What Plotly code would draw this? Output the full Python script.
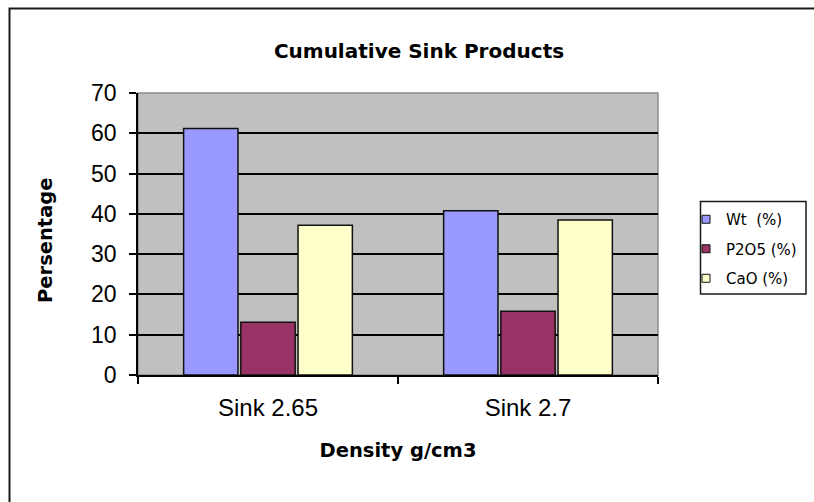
import plotly.graph_objects as go

# Cumulative sink products by density cut
categories = ["Sink 2.65", "Sink 2.7"]
wt_pct = [61.2, 40.8]
p2o5_pct = [13.1, 15.8]
cao_pct = [37.2, 38.5]

series = [
    ("Wt\u00a0\u00a0(%)", wt_pct, "#9999FF"),
    ("P2O5 (%)", p2o5_pct, "#993366"),
    ("CaO (%)", cao_pct, "#FFFFCC"),
]

y_ticks = [0, 10, 20, 30, 40, 50, 60, 70]

SANS = "Liberation Sans, Arial, sans-serif"
BOLD = "DejaVu Sans, Verdana, sans-serif"

fig = go.Figure()
for i, (name, vals, color) in enumerate(series):
    fig.add_trace(go.Bar(
        x=categories, y=vals, name=name,
        marker=dict(color=color, line=dict(color="#111111", width=1.5)),
        showlegend=False,
    ))
    # small square swatch for the legend
    fig.add_trace(go.Scatter(
        x=[None], y=[None], mode="markers", name=name,
        legendgroup=f"g{i}",
        marker=dict(symbol="square", size=8, color=color,
                    line=dict(color="#111111", width=1)),
    ))

W, H = 814, 502
L, R, T, B = 138, 156, 93, 127
pw, ph = W - L - R, H - T - B


def px_x(px):
    return (px - L) / pw


def px_y(py):
    return (H - B - py) / ph


fig.update_layout(
    width=W, height=H,
    margin=dict(l=L, r=R, t=T, b=B, pad=0),
    paper_bgcolor="white",
    plot_bgcolor="#C0C0C0",
    barmode="group",
    bargap=0.34,
    bargroupgap=0.05,
    title=dict(
        text="<b>Cumulative Sink Products</b>",
        x=px_x(419), xref="paper", xanchor="center",
        y=(H - 51) / H, yanchor="middle",
        font=dict(family=BOLD, size=20, color="#000000"),
    ),
    legend=dict(
        x=px_x(686), y=px_y(203), xanchor="left", yanchor="top",
        borderwidth=0, bgcolor="rgba(0,0,0,0)",
        font=dict(family=BOLD, size=15, color="#000000"),
        tracegroupgap=7, itemwidth=30,
    ),
    xaxis=dict(
        type="category",
        tickson="boundaries",
        ticks="outside", ticklen=7, tickcolor="#000000", tickwidth=1.5,
        ticklabelstandoff=10,
        showline=True, linecolor="#000000", linewidth=1.5,
        showgrid=False,
        tickfont=dict(family=SANS, size=24, color="#000000"),
        title=dict(text="<b>Density g/cm3</b>", standoff=24,
                   font=dict(family=BOLD, size=19.5, color="#000000")),
    ),
    yaxis=dict(
        range=[0, 70],
        tickvals=y_ticks,
        ticks="outside", ticklen=7, tickcolor="#000000", tickwidth=1.5,
        ticklabelstandoff=8,
        showline=True, linecolor="#000000", linewidth=1.5,
        showgrid=True, gridcolor="#000000", gridwidth=1.5,
        zeroline=False,
        tickfont=dict(family=SANS, size=23, color="#000000"),
    ),
    annotations=[
        dict(text="<b>Persentage</b>", textangle=-90,
             xref="paper", yref="paper", x=px_x(46), y=px_y(240),
             xanchor="center", yanchor="middle", showarrow=False,
             font=dict(family=BOLD, size=19.5, color="#000000")),
    ],
    shapes=[
        # plot-area frame
        dict(type="rect", xref="paper", yref="paper", x0=0, x1=1, y0=0, y1=1,
             line=dict(color="#8A8A8A", width=1.5), layer="below"),
        # chart-area border
        dict(type="rect", xref="paper", yref="paper",
             x0=px_x(9.5), x1=px_x(830), y0=px_y(520), y1=px_y(8.5),
             line=dict(color="#1A1A1A", width=2)),
        # legend frame
        dict(type="rect", xref="paper", yref="paper",
             x0=px_x(700.5), x1=px_x(806), y0=px_y(294), y1=px_y(201.5),
             line=dict(color="#1A1A1A", width=1.5)),
    ],
)

fig.write_html("out.html")
